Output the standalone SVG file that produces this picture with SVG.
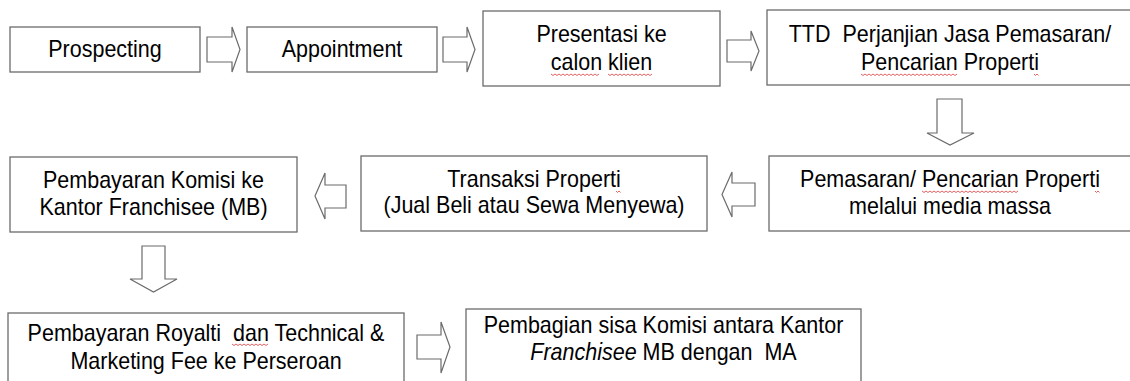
<svg xmlns="http://www.w3.org/2000/svg" width="1130" height="381" viewBox="0 0 1130 381">
<style>
.box{fill:#fff;stroke:#6b6b6b;stroke-width:1.3}
.arr{fill:#fff;stroke:#6b6b6b;stroke-width:1.2;stroke-linejoin:miter}
.t{font-family:"Liberation Sans",Arial,sans-serif;font-size:23px;fill:#000;text-anchor:middle;white-space:pre}
.sq{fill:none;stroke:#e05050;stroke-width:0.9}
</style>
<rect width="1130" height="381" fill="#fff"/>
<g id="connectors">
<polygon class="arr" points="207,37 232,37 232,27 240,49.5 232,72 232,62 207,62"/>
<polygon class="arr" points="443,37 467,37 467,27 475,49.5 467,72 467,62 443,62"/>
<polygon class="arr" points="727,40 751,40 751,31 759,51 751,71 751,62 727,62"/>
<polygon class="arr" points="937,99 962,99 962,133 974,133 950,145 927,133 937,133"/>
<polygon class="arr" points="755,183 732,183 732,172 722,194.5 732,217 732,206 755,206"/>
<polygon class="arr" points="346,185 325,185 325,173 315,196 325,219 325,208 346,208"/>
<polygon class="arr" points="142,246 165,246 165,279 177,279 153.5,292 130,279 142,279"/>
<polygon class="arr" points="417,335 441,335 441,322 450,347 441,373 441,359 417,359"/>
</g>
<g id="prospecting">
<rect class="box" x="10" y="27" width="190" height="45"/>
<text class="t" transform="translate(105,57) scale(0.935,1)">Prospecting</text>
</g>
<g id="appointment">
<rect class="box" x="247" y="27" width="190" height="45"/>
<text class="t" transform="translate(342,57) scale(0.935,1)">Appointment</text>
</g>
<g id="presentasi">
<rect class="box" x="483" y="11" width="237" height="75"/>
<text class="t" transform="translate(601.5,42) scale(0.935,1)">Presentasi ke</text>
<text class="t" transform="translate(601.5,70) scale(0.935,1)">calon klien</text>
</g>
<g id="ttd">
<rect class="box" x="767" y="10" width="380" height="75"/>
<text class="t" transform="translate(950,42) scale(0.935,1)">TTD  Perjanjian Jasa Pemasaran/</text>
<text class="t" transform="translate(950,70) scale(0.935,1)">Pencarian Properti</text>
</g>
<g id="pemasaran">
<rect class="box" x="769" y="156" width="380" height="75"/>
<text class="t" transform="translate(950,187) scale(0.935,1)">Pemasaran/ Pencarian Properti</text>
<text class="t" transform="translate(950,214) scale(0.935,1)">melalui media massa</text>
</g>
<g id="transaksi">
<rect class="box" x="361" y="156" width="346" height="75"/>
<text class="t" transform="translate(534,187) scale(0.935,1)">Transaksi Properti</text>
<text class="t" transform="translate(534,213) scale(0.935,1)">(Jual Beli atau Sewa Menyewa)</text>
</g>
<g id="komisi">
<rect class="box" x="10" y="157" width="287" height="75"/>
<text class="t" transform="translate(153.5,188) scale(0.935,1)">Pembayaran Komisi ke</text>
<text class="t" transform="translate(153.5,215) scale(0.935,1)">Kantor Franchisee (MB)</text>
</g>
<g id="royalti">
<rect class="box" x="8" y="313" width="396" height="90"/>
<text class="t" transform="translate(206,341) scale(0.935,1)">Pembayaran Royalti  dan Technical &amp;</text>
<text class="t" transform="translate(206,369) scale(0.935,1)">Marketing Fee ke Perseroan</text>
</g>
<g id="pembagian">
<rect class="box" x="466" y="309" width="395" height="90"/>
<text class="t" transform="translate(663.5,333) scale(0.935,1)">Pembagian sisa Komisi antara Kantor</text>
<text class="t" transform="translate(663.5,360) scale(0.935,1)"><tspan font-style="italic">Franchisee</tspan> MB dengan  MA</text>
</g>
<g id="spellcheck-marks">
<path class="sq" d="M551,74 l2,1.5 l2,-1.5 l2,1.5 l2,-1.5 l2,1.5 l2,-1.5 l2,1.5 l2,-1.5 l2,1.5 l2,-1.5 l2,1.5 l2,-1.5 l2,1.5 l2,-1.5 l2,1.5 l2,-1.5 l2,1.5 l2,-1.5 l2,1.5 l2,-1.5 l2,1.5 l2,-1.5 l2,1.5 l2,-1.5"/>
<path class="sq" d="M608,74 l2,1.5 l2,-1.5 l2,1.5 l2,-1.5 l2,1.5 l2,-1.5 l2,1.5 l2,-1.5 l2,1.5 l2,-1.5 l2,1.5 l2,-1.5 l2,1.5 l2,-1.5 l2,1.5 l2,-1.5 l2,1.5 l2,-1.5 l2,1.5 l2,-1.5 l2,1.5 l2,-1.5"/>
<path class="sq" d="M861,74 l2,1.5 l2,-1.5 l2,1.5 l2,-1.5 l2,1.5 l2,-1.5 l2,1.5 l2,-1.5 l2,1.5 l2,-1.5 l2,1.5 l2,-1.5 l2,1.5 l2,-1.5 l2,1.5 l2,-1.5 l2,1.5 l2,-1.5 l2,1.5 l2,-1.5 l2,1.5 l2,-1.5 l2,1.5 l2,-1.5 l2,1.5 l2,-1.5 l2,1.5 l2,-1.5 l2,1.5 l2,-1.5 l2,1.5 l2,-1.5 l2,1.5 l2,-1.5 l2,1.5 l2,-1.5 l2,1.5 l2,-1.5 l2,1.5 l2,-1.5 l2,1.5 l2,-1.5 l2,1.5 l2,-1.5 l2,1.5 l2,-1.5 l2,1.5 l2,-1.5"/>
<path class="sq" d="M1034,74 l1.5,1.5 l1.5,-1.5 l1.5,1.5"/>
<path class="sq" d="M922,191 l2,1.5 l2,-1.5 l2,1.5 l2,-1.5 l2,1.5 l2,-1.5 l2,1.5 l2,-1.5 l2,1.5 l2,-1.5 l2,1.5 l2,-1.5 l2,1.5 l2,-1.5 l2,1.5 l2,-1.5 l2,1.5 l2,-1.5 l2,1.5 l2,-1.5 l2,1.5 l2,-1.5 l2,1.5 l2,-1.5 l2,1.5 l2,-1.5 l2,1.5 l2,-1.5 l2,1.5 l2,-1.5 l2,1.5 l2,-1.5 l2,1.5 l2,-1.5 l2,1.5 l2,-1.5 l2,1.5 l2,-1.5 l2,1.5 l2,-1.5 l2,1.5 l2,-1.5 l2,1.5 l2,-1.5 l2,1.5 l2,-1.5 l2,1.5 l2,-1.5"/>
<path class="sq" d="M1095,191 l1.5,1.5 l1.5,-1.5 l1.5,1.5"/>
<path class="sq" d="M616,191 l1.5,1.5 l1.5,-1.5 l1.5,1.5"/>
<path class="sq" d="M232,344 l2,1.5 l2,-1.5 l2,1.5 l2,-1.5 l2,1.5 l2,-1.5 l2,1.5 l2,-1.5 l2,1.5 l2,-1.5 l2,1.5 l2,-1.5 l2,1.5 l2,-1.5 l2,1.5 l2,-1.5 l2,1.5 l2,-1.5"/>
</g>
</svg>
